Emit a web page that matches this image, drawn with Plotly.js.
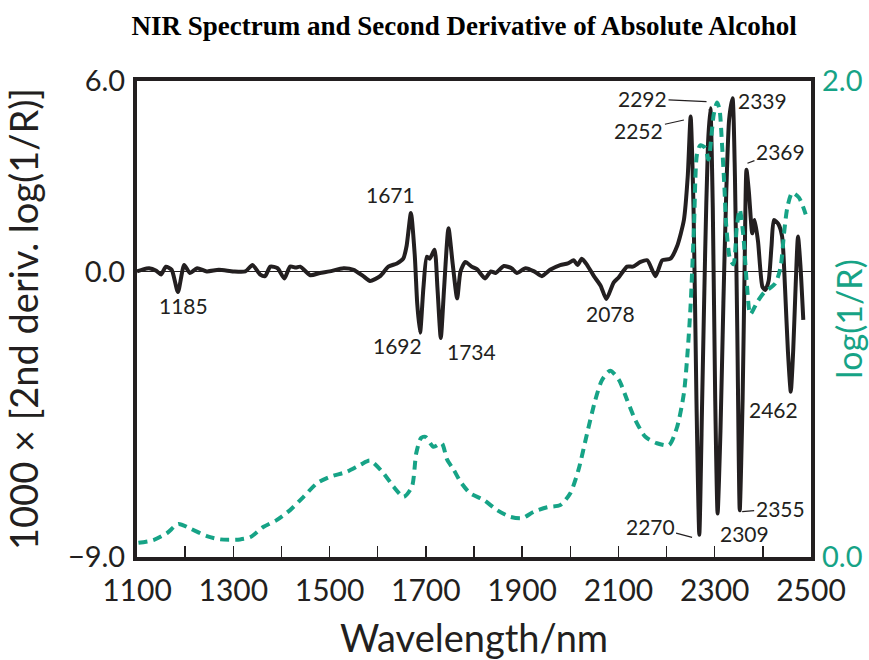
<!DOCTYPE html>
<html>
<head>
<meta charset="utf-8">
<script src="https://cdn.plot.ly/plotly-3.0.1.min.js"></script>
<style>html,body{margin:0;padding:0;background:#fff;}#chart{width:869px;height:660px;}</style>
</head>
<body>
<div id="chart"></div>
<script>
// Second derivative of log(1/R) (x1000), left axis
const derivWavelength = [1100,1110,1125,1140,1150,1160,1172,1185,1198,1210,1225,1245,1270,1300,1325,1340,1356,1366,1377,1392,1406,1418,1430,1439,1460,1480,1500,1529,1550,1570,1584,1605,1622,1640,1653,1660,1669,1677,1682,1688,1695,1702,1708,1718,1724,1731,1738,1747,1756,1765,1772,1782,1795,1806,1823,1835,1845,1862,1878,1889,1907,1925,1941,1958,1979,1995,2007,2015,2024,2035,2049,2063,2075,2090,2100,2118,2130,2146,2160,2177,2191,2208,2222,2236,2244,2250,2256,2262,2268,2274,2280,2286,2291,2296,2301,2306,2312,2318,2324,2330,2337,2342,2347,2352,2358,2362,2366,2371,2378,2383,2390,2399,2405,2412,2418,2423,2432,2440,2446,2452,2458,2463,2468,2473,2478,2484];
const derivValue = [0.0,0.05,0.1,0.02,-0.1,0.15,0.05,-0.65,0.2,-0.05,0.1,0.0,0.05,0.0,0.0,0.2,-0.1,-0.15,0.15,0.1,-0.22,0.15,0.12,0.15,-0.12,-0.05,0.0,0.1,0.05,-0.15,-0.3,-0.15,0.15,0.25,0.4,0.8,1.84,0.5,-1.0,-1.93,-0.5,0.46,0.4,0.68,-0.5,-2.1,-0.5,1.36,0.2,-0.85,0.0,0.3,0.15,0.07,-0.22,0.0,-0.05,0.17,0.1,-0.05,0.1,0.0,-0.15,0.05,0.2,0.25,0.35,0.2,0.4,0.2,-0.15,-0.45,-0.87,-0.35,-0.2,0.15,0.15,0.3,0.35,-0.15,0.35,0.4,0.8,1.62,3.0,4.88,2.0,-4.0,-8.3,-4.0,0.5,4.0,5.14,2.0,-4.0,-7.63,-5.0,-1.0,2.5,4.8,5.46,3.0,-2.0,-7.53,-4.0,0.0,3.2,2.5,1.2,1.62,0.94,-0.48,-0.59,-0.3,0.8,1.62,1.5,1.1,-0.5,-2.5,-3.79,-2.5,-0.5,1.1,0.2,-1.53];

// NIR spectrum log(1/R), right axis
const specWavelength = [1103,1134,1162,1186,1210,1245,1273,1314,1335,1363,1390,1418,1446,1474,1501,1536,1564,1584,1612,1633,1654,1671,1680,1690,1699,1716,1733,1744,1758,1772,1792,1820,1848,1875,1900,1924,1952,1979,2000,2017,2035,2052,2066,2083,2101,2118,2135,2156,2180,2205,2222,2236,2244,2250,2257,2263,2270,2280,2287,2298,2305,2310,2315,2320,2324,2332,2339,2346,2352,2359,2367,2374,2388,2402,2426,2437,2444,2451,2461,2475,2489];
const specValue = [0.06,0.071,0.10,0.139,0.12,0.088,0.074,0.074,0.083,0.127,0.155,0.197,0.253,0.31,0.337,0.358,0.387,0.405,0.352,0.295,0.253,0.295,0.436,0.50,0.505,0.463,0.478,0.41,0.366,0.316,0.268,0.24,0.197,0.169,0.163,0.19,0.209,0.218,0.268,0.366,0.52,0.66,0.744,0.783,0.744,0.66,0.576,0.505,0.478,0.47,0.547,0.688,0.87,1.06,1.39,1.69,1.73,1.72,1.67,1.86,1.91,1.88,1.74,1.56,1.39,1.25,1.23,1.39,1.46,1.36,1.14,1.02,1.07,1.11,1.15,1.22,1.36,1.47,1.53,1.51,1.44];

// Peak labels
const peakLabels = ['1185','1671','1692','1734','2078','2339','2462'];
const peakLabelX = [1196,1627,1642,1794,2083,2399,2423];
const peakLabelY = [-1.09,2.41,-2.35,-2.53,-1.34,5.40,-4.34];

const leaderLabels = ['2252','2292','2369','2355','2309','2270'];
const leaderX = [2236,2283,2368,2357,2308,2253];
const leaderY = [4.77,5.35,3.41,-7.57,-7.81,-8.38];
const leaderAx = [-45,-64,33,38,26,-42];
const leaderAy = [10,-3,-12,-3,14,-11];

const xTickVals = [1100,1200,1300,1400,1500,1600,1700,1800,1900,2000,2100,2200,2300,2400,2500];
const xTickText = ['1100','','1300','','1500','','1700','','1900','','2100','','2300','','2500'];
const yTickVals = [-9,0,6];
const yTickText = ['\u22129.0','0.0','6.0'];
const y2TickVals = [0,2];
const y2TickText = ['0.0','2.0'];

const GREEN = '#16a386';
const INK = '#231f20';
const FONT = 'Lato, "Open Sans", sans-serif';

const traces = [
  {x: specWavelength, y: specValue, yaxis: 'y2', type: 'scatter', mode: 'lines',
   line: {color: GREEN, width: 4, dash: '9px,6px', shape: 'spline', smoothing: 0.7},
   hoverinfo: 'skip', showlegend: false},
  {x: derivWavelength, y: derivValue, type: 'scatter', mode: 'lines',
   line: {color: INK, width: 4, shape: 'spline', smoothing: 0.6},
   hoverinfo: 'skip', showlegend: false}
];

const annotations = [];
peakLabels.forEach((t, i) => annotations.push({
  x: peakLabelX[i], y: peakLabelY[i], xref: 'x', yref: 'y', text: t, showarrow: false,
  font: {family: FONT, size: 21, color: INK}
}));
leaderLabels.forEach((t, i) => annotations.push({
  x: leaderX[i], y: leaderY[i], xref: 'x', yref: 'y', text: t, showarrow: true,
  ax: leaderAx[i], ay: leaderAy[i], arrowhead: 0, arrowwidth: 1.2, arrowcolor: INK,
  standoff: 0, font: {family: FONT, size: 21, color: INK}
}));

const layout = {
  width: 869, height: 660,
  margin: {l: 137, r: 58, t: 81, b: 103},
  paper_bgcolor: '#fff', plot_bgcolor: '#fff',
  font: {family: FONT, color: INK},
  title: {text: '<b>NIR Spectrum and Second Derivative of Absolute Alcohol</b>',
          font: {family: '"Liberation Serif", "Times New Roman", serif', size: 27, color: '#000'},
          x: 0.534, xanchor: 'center', y: 0.962, yanchor: 'middle'},
  xaxis: {range: [1100, 2500], tickmode: 'array', tickvals: xTickVals, ticktext: xTickText,
          ticks: 'inside', ticklen: 11, tickwidth: 1.5, tickcolor: INK, ticklabelstandoff: 4,
          showline: true, linewidth: 4, linecolor: INK, mirror: true, showgrid: false, zeroline: false,
          tickfont: {family: FONT, size: 30, color: INK},
          title: {text: 'Wavelength/nm', font: {family: FONT, size: 38, color: INK}, standoff: 23}},
  yaxis: {range: [-9, 6], tickmode: 'array', tickvals: yTickVals, ticktext: yTickText, ticks: '',
          showline: true, linewidth: 4, linecolor: INK, mirror: true, showgrid: false,
          zeroline: true, zerolinewidth: 1.5, zerolinecolor: INK, ticklabelstandoff: 2,
          tickfont: {family: FONT, size: 29, color: INK},
          title: {text: '1000 \u00d7 [2nd deriv. log(1/R)]', font: {family: FONT, size: 38, color: INK}, standoff: 22}},
  yaxis2: {range: [0, 2], overlaying: 'y', side: 'right', tickmode: 'array', tickvals: y2TickVals,
           ticktext: y2TickText, ticks: '', showline: false, showgrid: false, zeroline: false,
           ticklabelstandoff: 10,
           tickfont: {family: FONT, size: 29, color: GREEN},
           title: {text: 'log(1/R)', font: {family: FONT, size: 34, color: GREEN}, standoff: 0}},
  annotations: annotations,
  showlegend: false
};

Plotly.newPlot('chart', traces, layout, {displayModeBar: false, staticPlot: true});
</script>
</body>
</html>
